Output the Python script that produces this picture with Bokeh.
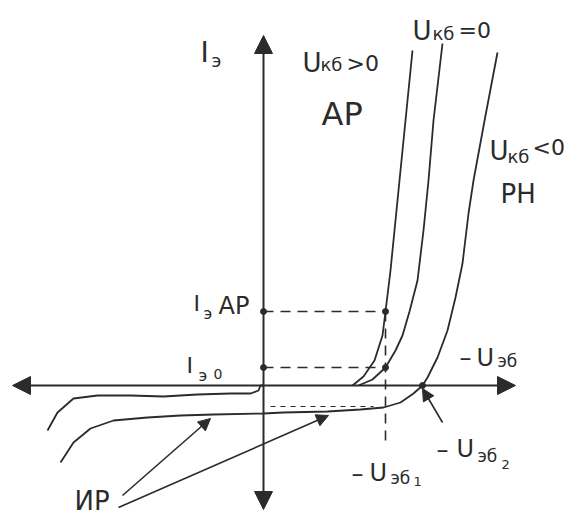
from bokeh.plotting import figure
from bokeh.models import Range1d, Arrow, NormalHead, ColumnDataSource
from bokeh.core.properties import value
from bokeh.embed import file_html
from bokeh.resources import INLINE

INK = "#2b2b2b"
FONT = "DejaVu Sans"

# ---- data (schematic units: U to the right, I upwards; origin at axes crossing) ----
# Uкб > 0 (active mode) forward branch
ukb_pos_u = [89, 100, 111, 119, 122, 127, 134, 141, 149]
ukb_pos_i = [0, 9, 25, 50, 74, 115, 185, 255, 335]
# Uкб = 0 forward branch
ukb_zero_u = [95, 109, 122, 132, 139, 146, 154, 160, 165, 170, 179]
ukb_zero_i = [0, 6, 18, 35, 50, 74, 105, 155, 205, 265, 342]
# Uкб < 0 (saturation) incl. reverse part
ukb_neg_u = [-203, -190, -173, -150, -116, -83, -50, 0, 20, 64, 97, 120, 137, 150, 159,
             164, 174, 184, 192, 199, 205, 210, 222, 234]
ukb_neg_i = [-77, -57, -43, -35, -32, -30, -29, -28, -27, -26, -24, -22, -17, -8, 0,
             8, 28, 55, 88, 122, 172, 205, 270, 333]
# inverse-mode reverse branch (upper one)
inv_u = [-216, -206, -190, -166, -133, -100, -66, -33, -13, -5, -3, 0]
inv_i = [-45, -27, -13, -10, -10, -11, -9, -8, -8, -5, 0, 0]

# reference levels
i_e_ap = 74      # Iэ АР
i_e_0 = 18       # Iэ0
u_eb1 = 122      # -Uэб1
u_eb2 = 159      # -Uэб2
i_rev = -21      # dotted reverse level
u_dot_start = 7
u_dot_end = 110
u_eb1_tick_low = -55

# axes extents
x_axis_left, x_axis_right = -251, 252
y_axis_bottom, y_axis_top = -124, 350

p = figure(width=577, height=519, x_range=Range1d(-263, 314), y_range=Range1d(-134, 385),
           output_backend="svg", toolbar_location=None, x_axis_type=None, y_axis_type=None,
           min_border=0, outline_line_color=None, background_fill_color="white")
p.grid.visible = False

# axes with arrowheads
for xs, ys, xe, ye in [(0, 0, x_axis_right, 0), (0, 0, x_axis_left, 0),
                       (0, 0, 0, y_axis_top), (0, 0, 0, y_axis_bottom)]:
    p.add_layout(Arrow(x_start=xs, y_start=ys, x_end=xe, y_end=ye, line_color=INK, line_width=2,
                       end=NormalHead(size=18, fill_color=INK, line_color=INK)))

# dashed guide lines
p.line([0, u_eb1], [i_e_ap, i_e_ap], line_color=INK, line_width=1.6, line_dash="10 7")
p.line([0, u_eb1], [i_e_0, i_e_0], line_color=INK, line_width=1.6, line_dash="10 7")
p.line([u_eb1, u_eb1], [i_e_ap, u_eb1_tick_low], line_color=INK, line_width=1.6, line_dash="10 7")
p.line([u_dot_start, u_dot_end], [i_rev, i_rev], line_color=INK, line_width=1.2, line_dash="5 5")

# curves
for us, iss in [(ukb_pos_u, ukb_pos_i), (ukb_zero_u, ukb_zero_i), (ukb_neg_u, ukb_neg_i), (inv_u, inv_i)]:
    p.line(us, iss, line_color=INK, line_width=1.8, line_join="round")

# points
p.scatter([0, u_eb1, 0, u_eb1, u_eb2], [i_e_ap, i_e_ap, i_e_0, i_e_0, 0], size=6, color=INK)

# pointer arrows (ИР and -Uэб2)
for xs, ys, xe, ye in [(-141, -110, -53, -33), (-145, -122, 65, -30), (179, -37, 159, -3)]:
    p.add_layout(Arrow(x_start=xs, y_start=ys, x_end=xe, y_end=ye, line_color=INK, line_width=1.6,
                       end=NormalHead(size=12, fill_color=INK, line_color=INK)))

# labels: (text, left px, baseline px, font size)
lab_text = ["I", "э", "U", "кб", ">0", "АР", "U", "кб", "=0", "U", "кб", "<0", "РН",
            "I", "э", "АР", "I", "э", "0",
            "–", "U", "эб", "–", "U", "эб", "1", "–", "U", "эб", "2", "ИР"]
lab_x = [200, 211, 302, 320, 346, 321, 412, 432, 458, 489, 507, 532, 500,
         193, 203, 218, 186, 198, 213,
         459, 476, 497, 351, 369, 390, 413, 436, 456, 477, 501, 74]
lab_y = [52, 60, 62, 64, 63, 113, 30, 33, 30, 150, 156, 147, 193,
         303, 313, 305, 365, 375, 373,
         357, 357, 360, 473, 472, 477, 481, 449, 448, 455, 464, 500]
lab_size = [28, 18, 26, 18, 22, 32, 26, 18, 22, 26, 18, 22, 26,
            22, 16, 24, 22, 16, 14,
            24, 24, 17, 24, 24, 17, 13, 24, 24, 17, 13, 26]
src = ColumnDataSource(dict(x=[v - 263 for v in lab_x], y=[385 - v for v in lab_y], text=lab_text,
                            size=[f"{s}px" for s in lab_size]))
p.text(x="x", y="y", text="text", source=src, text_font=value(FONT), text_font_size="size",
       text_color=INK, text_align="left", text_baseline="alphabetic")

open("out.html", "w").write(file_html(p, INLINE))
